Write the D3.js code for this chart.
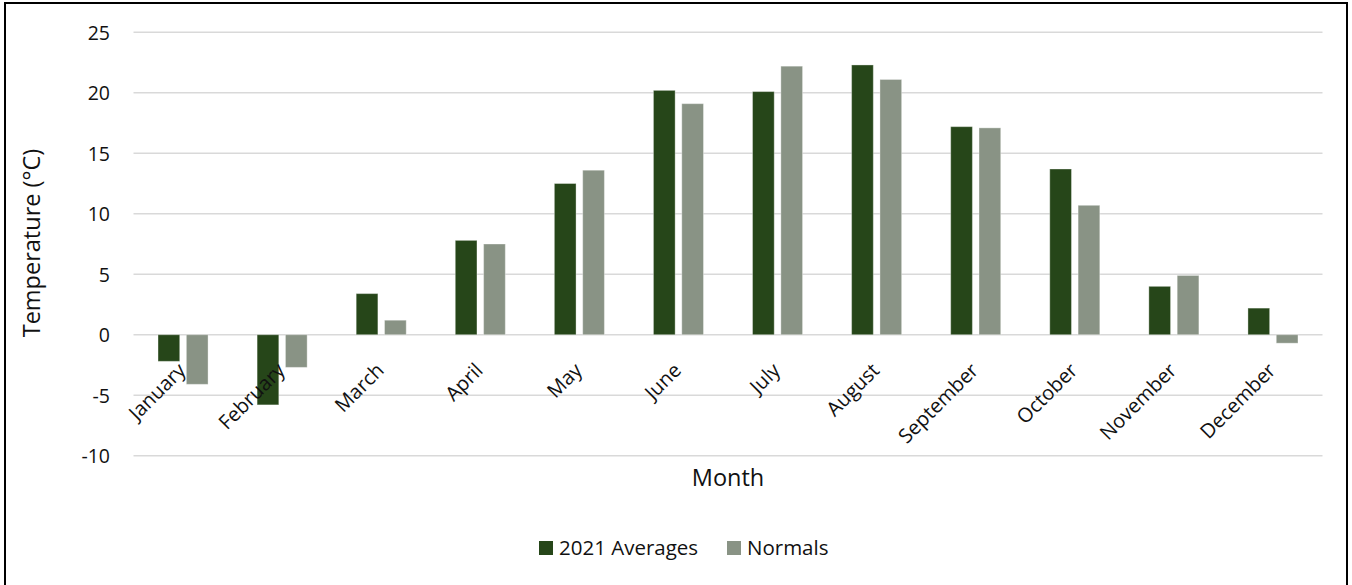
<!DOCTYPE html>
<html>
<head>
<meta charset="utf-8">
<script src="https://cdn.jsdelivr.net/npm/d3@7"></script>
<style>
  html, body { margin: 0; padding: 0; background: #fff; }
  svg { display: block; font-family: "Open Sans", "Noto Sans", sans-serif; }
</style>
</head>
<body>
<svg id="chart" width="1352" height="585"></svg>
<script>
// Monthly mean temperatures (°C)
const months = ["January", "February", "March", "April", "May", "June",
                "July", "August", "September", "October", "November", "December"];
const averages2021 = [-2.2, -5.8, 3.4, 7.8, 12.5, 20.2, 20.1, 22.3, 17.2, 13.7, 4.0, 2.2];
const normals      = [-4.1, -2.7, 1.2, 7.5, 13.6, 19.1, 22.2, 21.1, 17.1, 10.7, 4.9, -0.7];
const seriesNames  = ["2021 Averages", "Normals"];
const yTicks       = [-10, -5, 0, 5, 10, 15, 20, 25];

const colors = ["#264619", "#899385"];

const svg = d3.select("#chart");
const margin = { left: 133.5, right: 1322.5, top: 32.3, bottom: 455.7 };

// Outer chart frame
svg.append("rect")
  .attr("x", 5).attr("y", 3)
  .attr("width", 1342).attr("height", 600)
  .attr("fill", "none").attr("stroke", "#000").attr("stroke-width", 2);

const x = d3.scaleBand().domain(months).range([margin.left, margin.right]).padding(0);
const y = d3.scaleLinear().domain([-10, 25]).range([margin.bottom, margin.top]);

const barW = x.bandwidth() * 0.219;
const innerGap = x.bandwidth() * 0.067;
const groupW = barW * 2 + innerGap;

// Horizontal gridlines
svg.append("g")
  .selectAll("line")
  .data(yTicks)
  .join("line")
  .attr("x1", margin.left).attr("x2", margin.right)
  .attr("y1", d => y(d)).attr("y2", d => y(d))
  .attr("stroke", "#d9d9d9").attr("stroke-width", 1.5);

// Y axis tick labels (plain hyphen for negatives)
const yAxis = d3.axisLeft(y).tickValues(yTicks).tickSize(0).tickPadding(0)
  .tickFormat(d => String(d));
svg.append("g")
  .attr("transform", "translate(110,0)")
  .call(yAxis)
  .call(g => g.select(".domain").remove())
  .call(g => g.selectAll("text")
    .attr("font-size", 19.5)
    .attr("font-family", "Open Sans, sans-serif")
    .attr("fill", "#111")
    .attr("dy", "0.36em"));

// Bars
const seriesData = [averages2021, normals];
seriesData.forEach((vals, si) => {
  svg.append("g")
    .selectAll("rect")
    .data(months.map((m, i) => ({ m, v: vals[i] })))
    .join("rect")
    .attr("x", d => x(d.m) + (x.bandwidth() - groupW) / 2 + si * (barW + innerGap))
    .attr("width", barW)
    .attr("y", d => y(Math.max(0, d.v)))
    .attr("height", d => Math.abs(y(d.v) - y(0)))
    .attr("fill", colors[si])
    .attr("stroke", "rgba(255,255,255,0.35)")
    .attr("stroke-width", 1);
});

// Category labels, rotated below the zero line
svg.append("g")
  .selectAll("text")
  .data(months)
  .join("text")
  .attr("transform", d => `translate(${x(d) + x.bandwidth() / 2 - 6},${y(0) + 27}) rotate(-45)`)
  .attr("text-anchor", "end")
  .attr("dy", "0.7em")
  .attr("font-size", 20)
  .attr("fill", "#111")
  .text(d => d);

// Axis titles
svg.append("text")
  .attr("x", 728).attr("y", 485.5)
  .attr("text-anchor", "middle")
  .attr("font-size", 23.5)
  .attr("fill", "#111")
  .text("Month");

svg.append("text")
  .attr("transform", "translate(40,243) rotate(-90)")
  .attr("text-anchor", "middle")
  .attr("font-size", 23.5)
  .attr("fill", "#111")
  .text("Temperature (°C)");

// Legend
const legendX = [539, 727];
const legend = svg.append("g");
seriesNames.forEach((name, i) => {
  legend.append("rect")
    .attr("x", legendX[i]).attr("y", 541)
    .attr("width", 14).attr("height", 14)
    .attr("fill", colors[i]);
  legend.append("text")
    .attr("x", legendX[i] + 20).attr("y", 554.5)
    .attr("font-size", 20.5)
    .attr("fill", "#111")
    .text(name);
});
</script>
</body>
</html>
